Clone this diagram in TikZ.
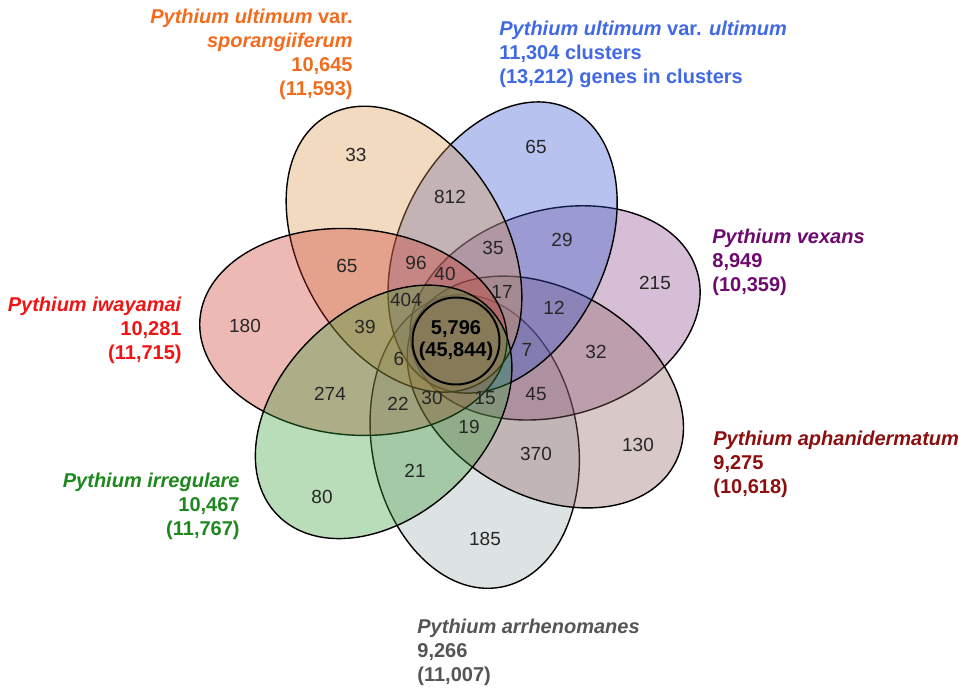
\documentclass[tikz,border=0pt]{standalone}
\usepackage{fontspec}
\setmainfont{Liberation Sans}
\usepackage{tikz}
\usetikzlibrary{positioning}
\definecolor{ultfill}{RGB}{49,84,206}
\definecolor{sporfill}{RGB}{218,149,75}
\definecolor{vexfill}{RGB}{138,72,138}
\definecolor{aphfill}{RGB}{144,98,98}
\definecolor{arrfill}{RGB}{158,172,172}
\definecolor{irrfill}{RGB}{55,155,55}
\definecolor{iwafill}{RGB}{204,55,41}
\definecolor{ulttext}{RGB}{65,105,230}
\definecolor{sportext}{RGB}{242,108,30}
\definecolor{vextext}{RGB}{110,10,110}
\definecolor{aphtext}{RGB}{140,15,15}
\definecolor{arrtext}{RGB}{85,85,85}
\definecolor{irrtext}{RGB}{30,135,30}
\definecolor{iwatext}{RGB}{240,20,20}
\tikzstyle{petal}=[draw=black,line width=0.7pt,fill opacity=0.35]
\tikzstyle{count}=[inner sep=0pt,text=black!85,font=\fontsize{9.5}{10}\selectfont]
\tikzstyle{core}=[circle,draw=black,line width=1pt,minimum size=43.5pt,inner sep=0pt,font=\fontsize{10}{11}\selectfont\bfseries,align=center]
\tikzstyle{species}=[inner sep=0pt,font=\fontsize{10}{12}\selectfont\bfseries]

\begin{document}
\begin{tikzpicture}[x=0.5pt,y=0.5pt]
\useasboundingbox (0,0) rectangle (959,-687);

% petals
\begin{scope}[shift={(457,-341)}]
  \filldraw[petal,fill=arrfill,rotate=280] (102,0) ellipse (148 and 103);
  \filldraw[petal,fill=vexfill,rotate=16] (102,0) ellipse (148 and 103);
  \filldraw[petal,fill=aphfill,rotate=330] (102,0) ellipse (148 and 103);
  \filldraw[petal,fill=ultfill,rotate=64] (104,0) ellipse (154 and 103);
  \filldraw[petal,fill=sporfill,rotate=120] (106,0) ellipse (154 and 103);
  \filldraw[petal,fill=iwafill,rotate=175] (104,0) ellipse (154 and 103);
  \filldraw[petal,fill=irrfill,rotate=224] (102,0) ellipse (148 and 103);
\end{scope}

\node[core] (all) at (456,-341) {5,796\\(45,844)};

% region counts
\node[count] (c33) at (356,-155) {33};
\node[count] (c65u) at (536,-147) {65};
\node[count] (c812) at (450,-197) {812};
\node[count] (c65s) at (347,-266) {65};
\node[count] (c96) at (416,-263) {96};
\node[count] (c35) at (493,-248) {35};
\node[count] (c29) at (562,-240) {29};
\node[count] (c40) at (445,-274) {40};
\node[count] (c17) at (502,-292) {17};
\node[count] (c12) at (554,-308) {12};
\node[count] (c215) at (655,-283) {215};
\node[count] (c180) at (245,-326) {180};
\node[count] (c39) at (365,-327) {39};
\node[count] (c404) at (406,-300) {404};
\node[count] (c6) at (399,-359) {6};
\node[count] (c7) at (527,-350) {7};
\node[count] (c32) at (596,-352) {32};
\node[count] (c274) at (330,-394) {274};
\node[count] (c22) at (398,-404) {22};
\node[count] (c30) at (432,-398) {30};
\node[count] (c15) at (485,-398) {15};
\node[count] (c45) at (536,-394) {45};
\node[count] (c19) at (469,-427) {19};
\node[count] (c370) at (536,-454) {370};
\node[count] (c130) at (638,-445) {130};
\node[count] (c21) at (415,-471) {21};
\node[count] (c80) at (322,-497) {80};
\node[count] (c185) at (485,-539) {185};

% species labels
\node[species,text=sportext,anchor=east,align=right] (spor) at (353,-54)
  {\textit{Pythium ultimum} var.\\\textit{sporangiiferum}\\10,645\\(11,593)};
\node[species,text=ulttext,anchor=west,align=left] (ult) at (499,-54)
  {\textit{Pythium ultimum} var. \textit{ultimum}\\11,304 clusters\\(13,212) genes in clusters};
\node[species,text=vextext,anchor=west,align=left] (vex) at (712,-262)
  {\textit{Pythium vexans}\\8,949\\(10,359)};
\node[species,text=aphtext,anchor=west,align=left] (aph) at (713,-464)
  {\textit{Pythium aphanidermatum}\\9,275\\(10,618)};
\node[species,text=arrtext,anchor=west,align=left] (arr) at (417,-652)
  {\textit{Pythium arrhenomanes}\\9,266\\(11,007)};
\node[species,text=irrtext,anchor=east,align=right] (irr) at (240,-506)
  {\textit{Pythium irregulare}\\10,467\\(11,767)};
\node[species,text=iwatext,anchor=east,align=right] (iwa) at (182,-330)
  {\textit{Pythium iwayamai}\\10,281\\(11,715)};
\end{tikzpicture}
\end{document}
